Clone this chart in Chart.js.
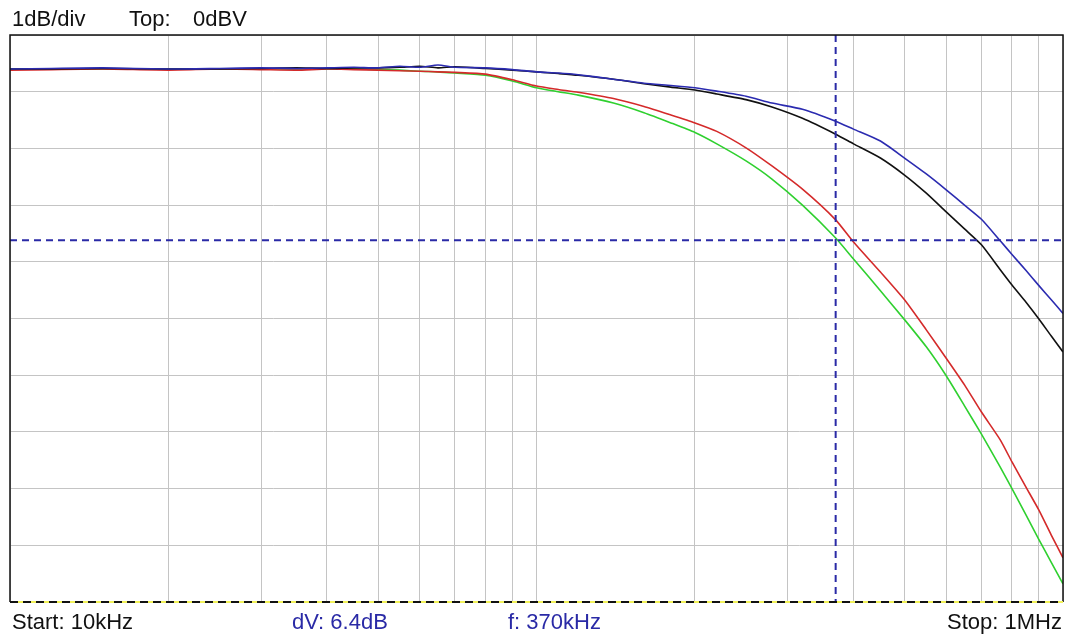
<!DOCTYPE html>
<html>
<head>
<meta charset="utf-8">
<script src="https://cdn.jsdelivr.net/npm/chart.js@4.4.1/dist/chart.umd.min.js"></script>
<style>
  html, body { margin: 0; padding: 0; background: #fff; }
  #wrap { position: relative; width: 1069px; height: 637px; overflow: hidden; }
  #chart { position: absolute; left: 0; top: 0; }
  .lbl { position: absolute; font-family: "Liberation Sans", Arial, sans-serif; font-size: 22px; line-height: 22px; white-space: nowrap; color: #111; }
  .blue { color: #2a2aa6; }
</style>
</head>
<body>
<div id="wrap">
  <canvas id="chart" width="1069" height="637"></canvas>
  <span class="lbl" style="left:12px; top:8px;">1dB/div</span>
  <span class="lbl" style="left:129px; top:8px;">Top:</span>
  <span class="lbl" style="left:193px; top:8px;">0dBV</span>
  <span class="lbl" style="left:12px; top:611px;">Start: 10kHz</span>
  <span class="lbl blue" style="left:292px; top:611px;">dV: 6.4dB</span>
  <span class="lbl blue" style="left:508px; top:611px;">f: 370kHz</span>
  <span class="lbl" style="right:7px; top:611px;">Stop: 1MHz</span>
</div>
<script>
// sweep frequencies in kHz
const freqKHz = [10, 12, 15, 20, 25, 30, 35, 40, 45, 50, 55, 60, 65, 70, 80, 90, 100, 110, 120, 140, 160, 180, 200, 220, 250, 280, 320, 370, 400, 450, 500, 550, 600, 650, 700, 760, 800, 850, 900, 950, 1000];

// levels in dBV for each trace
const blueDb = [-0.60, -0.59, -0.58, -0.60, -0.59, -0.58, -0.59, -0.58, -0.57, -0.58, -0.55, -0.57, -0.53, -0.57, -0.58, -0.61, -0.65, -0.67, -0.70, -0.78, -0.85, -0.89, -0.93, -0.99, -1.08, -1.20, -1.31, -1.52, -1.66, -1.87, -2.17, -2.45, -2.73, -3.00, -3.25, -3.63, -3.87, -4.15, -4.42, -4.67, -4.91];
const blackDb = [-0.60, -0.60, -0.59, -0.60, -0.60, -0.59, -0.58, -0.59, -0.58, -0.58, -0.57, -0.55, -0.58, -0.56, -0.59, -0.62, -0.65, -0.68, -0.71, -0.78, -0.86, -0.92, -0.97, -1.04, -1.14, -1.27, -1.47, -1.75, -1.92, -2.17, -2.47, -2.79, -3.12, -3.42, -3.70, -4.14, -4.41, -4.71, -5.01, -5.31, -5.59];
const redDb = [-0.62, -0.61, -0.60, -0.62, -0.60, -0.61, -0.62, -0.60, -0.61, -0.62, -0.63, -0.64, -0.65, -0.66, -0.69, -0.79, -0.90, -0.96, -1.01, -1.12, -1.26, -1.41, -1.55, -1.70, -1.99, -2.31, -2.72, -3.26, -3.65, -4.18, -4.67, -5.20, -5.70, -6.17, -6.65, -7.14, -7.53, -7.97, -8.38, -8.82, -9.22];
const greenDb = [-0.60, -0.60, -0.60, -0.60, -0.60, -0.60, -0.60, -0.60, -0.60, -0.61, -0.62, -0.64, -0.65, -0.67, -0.71, -0.81, -0.93, -1.00, -1.06, -1.20, -1.37, -1.55, -1.72, -1.92, -2.22, -2.54, -3.00, -3.58, -3.95, -4.51, -5.02, -5.50, -6.01, -6.54, -7.04, -7.62, -8.00, -8.46, -8.90, -9.30, -9.68];

// grid positions (Hz) and dB divisions
const gridFreqs = [10000, 20000, 30000, 40000, 50000, 60000, 70000, 80000, 90000, 100000, 200000, 300000, 400000, 500000, 600000, 700000, 800000, 900000, 1000000];
const dbTicks = [0, -1, -2, -3, -4, -5, -6, -7, -8, -9, -10];

// cursor markers
const cursorFreq = 370000;
const cursorDb = -3.62;

function toPoints(values) {
  return freqKHz.map((f, i) => ({ x: f * 1000, y: values[i] }));
}

function trace(label, values, color) {
  return {
    label,
    data: toPoints(values),
    borderColor: color,
    borderWidth: 1.6,
    pointRadius: 0,
    tension: 0.2,
    fill: false
  };
}

function cursor(points) {
  return {
    label: "cursor",
    data: points,
    borderColor: "#2a2aa6",
    borderWidth: 2,
    borderDash: [7, 5],
    pointRadius: 0,
    fill: false
  };
}

// frame: dark left/top/right, black-yellow dashed bottom
const framePlugin = {
  id: "frame",
  afterDraw(chart) {
    const { ctx, chartArea: a } = chart;
    ctx.save();
    ctx.strokeStyle = "#111";
    ctx.lineWidth = 1.5;
    ctx.beginPath();
    ctx.moveTo(a.left, a.bottom);
    ctx.lineTo(a.left, a.top);
    ctx.lineTo(a.right, a.top);
    ctx.lineTo(a.right, a.bottom);
    ctx.stroke();
    ctx.lineWidth = 2;
    ctx.strokeStyle = "#f2f25a";
    ctx.beginPath();
    ctx.moveTo(a.left, a.bottom);
    ctx.lineTo(a.right, a.bottom);
    ctx.stroke();
    ctx.strokeStyle = "#111";
    ctx.setLineDash([8, 5]);
    ctx.beginPath();
    ctx.moveTo(a.left, a.bottom);
    ctx.lineTo(a.right, a.bottom);
    ctx.stroke();
    ctx.restore();
  }
};

new Chart(document.getElementById("chart"), {
  type: "line",
  data: {
    datasets: [
      cursor([{ x: cursorFreq, y: 0 }, { x: cursorFreq, y: -10 }]),
      cursor([{ x: 10000, y: cursorDb }, { x: 1000000, y: cursorDb }]),
      trace("Blue", blueDb, "#2b2bb0"),
      trace("Black", blackDb, "#111111"),
      trace("Red", redDb, "#d42a2a"),
      trace("Green", greenDb, "#2fd02f")
    ]
  },
  options: {
    responsive: false,
    animation: false,
    layout: { padding: { left: 10, top: 35, right: 6, bottom: 35 } },
    plugins: { legend: { display: false }, tooltip: { enabled: false } },
    scales: {
      x: {
        type: "logarithmic",
        min: 10000,
        max: 1000000,
        afterBuildTicks: scale => { scale.ticks = gridFreqs.map(v => ({ value: v })); },
        ticks: { display: false },
        grid: { color: "#c4c4c4", lineWidth: 1, drawTicks: false },
        border: { display: false }
      },
      y: {
        type: "linear",
        min: -10,
        max: 0,
        afterBuildTicks: scale => { scale.ticks = dbTicks.map(v => ({ value: v })); },
        ticks: { display: false },
        grid: { color: "#c4c4c4", lineWidth: 1, drawTicks: false },
        border: { display: false }
      }
    }
  },
  plugins: [framePlugin]
});
</script>
</body>
</html>
